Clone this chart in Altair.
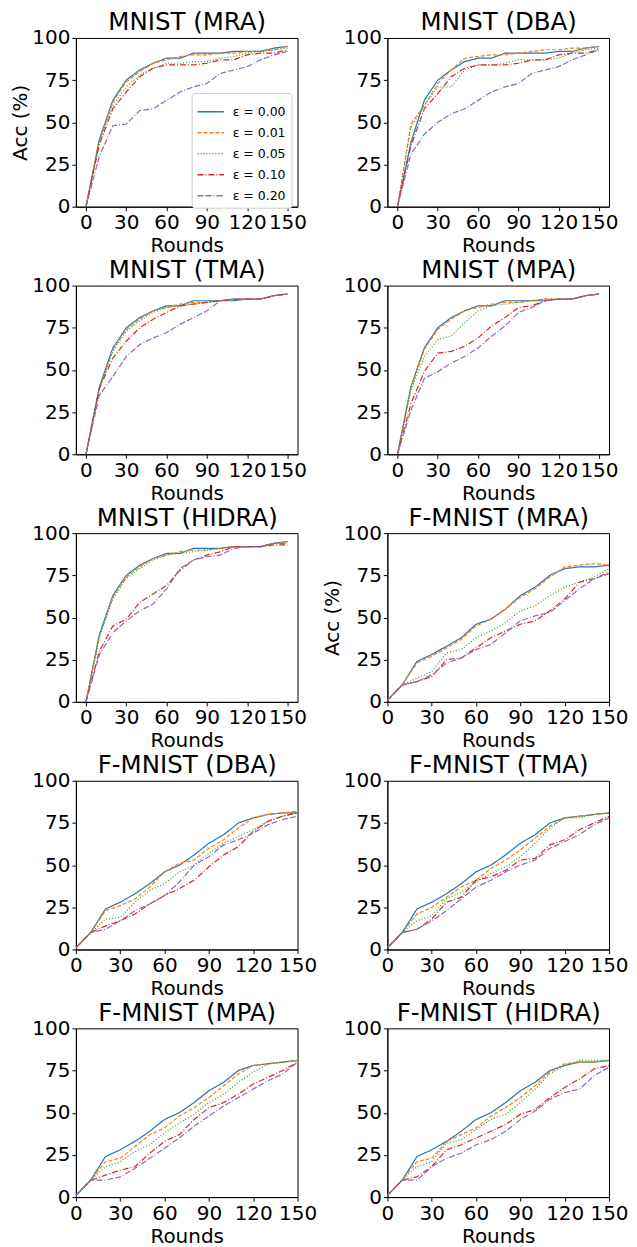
import altair as alt
import pandas as pd

rounds = list(range(0, 151, 10))
eps_labels = ["ε = 0.00", "ε = 0.01", "ε = 0.05", "ε = 0.10", "ε = 0.20"]
colors = ["#1f77b4", "#ff7f0e", "#2ca02c", "#d62728", "#9467bd"]
dashes = [[1, 0], [4, 2], [1, 2], [6, 2, 1, 2], [6, 2, 6, 2, 1, 2]]
x_ticks = [0, 30, 60, 90, 120, 150]
y_ticks = [0, 25, 50, 75, 100]

mnist_mra = [
    [0, 40, 63, 75, 81, 85, 88, 88, 91, 91, 91, 92, 92, 92, 94, 95],
    [0, 39, 62, 74, 80, 85, 87, 89, 90, 90, 91, 91, 92, 92, 93, 95],
    [0, 38, 60, 71, 78, 82, 85, 85, 86, 86, 88, 89, 91, 92, 93, 94],
    [0, 37, 58, 68, 77, 82, 84, 84, 84, 85, 87, 87, 90, 91, 91, 93],
    [0, 30, 48, 49, 57, 58, 63, 68, 71, 73, 79, 81, 83, 87, 90, 92],
]
mnist_dba = [
    [0, 38, 63, 75, 81, 86, 88, 88, 91, 91, 91, 91, 92, 92, 94, 95],
    [0, 49, 60, 73, 81, 88, 89, 90, 90, 91, 92, 93, 93, 94, 94, 95],
    [0, 47, 60, 71, 71, 81, 84, 84, 85, 87, 87, 87, 88, 91, 93, 94],
    [0, 36, 58, 67, 77, 82, 84, 84, 84, 85, 87, 87, 90, 91, 91, 93],
    [0, 31, 43, 50, 55, 58, 63, 68, 71, 73, 79, 81, 83, 87, 90, 93],
]
mnist_tma = [
    [0, 40, 63, 75, 81, 85, 88, 88, 91, 91, 91, 91, 92, 92, 94, 95],
    [0, 39, 62, 74, 80, 85, 87, 89, 90, 90, 91, 92, 92, 92, 94, 95],
    [0, 39, 61, 73, 79, 84, 87, 88, 89, 90, 91, 92, 92, 92, 94, 95],
    [0, 39, 57, 67, 75, 80, 84, 88, 89, 90, 91, 92, 92, 92, 94, 95],
    [0, 35, 46, 58, 65, 69, 72, 77, 81, 85, 91, 92, 92, 92, 94, 95],
]
mnist_mpa = [
    [0, 40, 63, 75, 81, 85, 88, 88, 91, 91, 91, 91, 92, 92, 94, 95],
    [0, 39, 62, 74, 80, 85, 87, 89, 90, 90, 91, 92, 92, 92, 94, 95],
    [0, 38, 58, 68, 70, 78, 85, 88, 89, 90, 91, 92, 92, 92, 94, 95],
    [0, 30, 49, 60, 61, 64, 69, 76, 81, 87, 88, 91, 92, 92, 94, 95],
    [0, 26, 45, 49, 54, 58, 63, 70, 76, 84, 87, 91, 92, 92, 94, 95],
]
mnist_hidra = [
    [0, 40, 63, 75, 81, 85, 88, 88, 91, 91, 91, 92, 92, 92, 94, 95],
    [0, 39, 62, 74, 80, 85, 87, 89, 90, 90, 91, 92, 92, 92, 94, 95],
    [0, 38, 61, 73, 79, 84, 87, 88, 89, 90, 91, 92, 92, 92, 94, 94],
    [0, 30, 45, 49, 59, 64, 69, 78, 84, 87, 89, 92, 92, 92, 93, 93],
    [0, 28, 41, 48, 54, 58, 67, 79, 84, 86, 87, 91, 92, 92, 94, 94],
]
fmnist_mra = [
    [1, 10, 24, 28, 33, 38, 46, 49, 55, 63, 68, 75, 79, 80, 80, 81],
    [1, 10, 23, 27, 32, 37, 45, 49, 55, 62, 67, 74, 80, 81, 82, 81],
    [1, 10, 14, 18, 29, 31, 38, 42, 47, 54, 57, 63, 68, 71, 74, 79],
    [1, 10, 12, 15, 25, 26, 32, 38, 42, 46, 48, 54, 61, 71, 73, 77],
    [1, 10, 12, 16, 23, 26, 31, 34, 41, 48, 51, 53, 60, 67, 73, 76],
]
fmnist_dba = [
    [1, 10, 24, 28, 33, 39, 46, 50, 56, 63, 68, 75, 78, 80, 81, 81],
    [1, 10, 23, 26, 30, 37, 46, 51, 53, 60, 65, 72, 78, 80, 81, 82],
    [1, 10, 18, 19, 28, 35, 39, 46, 50, 57, 63, 67, 71, 76, 79, 81],
    [1, 10, 14, 17, 21, 27, 32, 36, 41, 49, 56, 61, 70, 76, 79, 81],
    [1, 10, 12, 17, 23, 27, 32, 40, 50, 55, 62, 65, 69, 74, 77, 79],
]
fmnist_tma = [
    [1, 10, 24, 28, 33, 39, 46, 50, 56, 63, 68, 75, 78, 79, 80, 81],
    [1, 10, 21, 25, 31, 37, 41, 48, 53, 59, 66, 73, 78, 79, 80, 81],
    [1, 10, 17, 20, 30, 34, 40, 45, 49, 55, 63, 72, 78, 78, 80, 81],
    [1, 10, 12, 18, 28, 31, 41, 43, 47, 53, 54, 62, 65, 71, 75, 79],
    [1, 10, 12, 17, 23, 30, 37, 41, 46, 50, 53, 60, 64, 68, 74, 78],
]
fmnist_mpa = [
    [1, 10, 24, 28, 33, 39, 46, 50, 56, 63, 68, 75, 78, 79, 80, 81],
    [1, 10, 21, 23, 30, 37, 41, 48, 53, 59, 66, 73, 78, 79, 80, 81],
    [1, 10, 18, 21, 27, 31, 38, 44, 49, 56, 61, 68, 74, 79, 80, 81],
    [1, 10, 13, 16, 18, 26, 33, 37, 46, 53, 56, 61, 67, 71, 75, 80],
    [1, 10, 10, 12, 17, 23, 29, 35, 42, 48, 54, 59, 64, 69, 73, 80],
]
fmnist_hidra = [
    [1, 10, 24, 28, 33, 39, 46, 50, 56, 63, 68, 75, 78, 80, 80, 81],
    [1, 10, 21, 23, 33, 37, 41, 48, 53, 59, 66, 74, 79, 80, 80, 81],
    [1, 10, 18, 21, 32, 34, 40, 46, 49, 56, 64, 73, 78, 81, 81, 81],
    [1, 10, 12, 18, 28, 31, 35, 39, 43, 49, 52, 59, 65, 70, 76, 78],
    [1, 10, 10, 18, 23, 26, 31, 34, 39, 46, 51, 58, 62, 64, 72, 77],
]

panels = [
    ("MNIST (MRA)", mnist_mra, True, True, True),
    ("MNIST (DBA)", mnist_dba, True, False, False),
    ("MNIST (TMA)", mnist_tma, True, False, False),
    ("MNIST (MPA)", mnist_mpa, True, False, False),
    ("MNIST (HIDRA)", mnist_hidra, True, False, False),
    ("F-MNIST (MRA)", fmnist_mra, False, True, False),
    ("F-MNIST (DBA)", fmnist_dba, False, False, False),
    ("F-MNIST (TMA)", fmnist_tma, False, False, False),
    ("F-MNIST (MPA)", fmnist_mpa, False, False, False),
    ("F-MNIST (HIDRA)", fmnist_hidra, False, False, False),
]

FONT = "DejaVu Sans"
W, H = 222, 169


def make_panel(title, series, mnist, show_ytitle, show_legend):
    rows = []
    for lab, vals in zip(eps_labels, series):
        for r, v in zip(rounds, vals):
            rows.append({"Rounds": r, "acc": v, "eps": lab})
    df = pd.DataFrame(rows)
    xdom = [-7.5, 157.5] if mnist else [0, 150]
    xscale = alt.Scale(domain=xdom, nice=False, zero=False)
    yscale = alt.Scale(domain=[0, 100], nice=False)
    yaxis = alt.Axis(values=y_ticks, title="Acc (%)", labelOverlap=False,
                     titleOpacity=1 if show_ytitle else 0)
    if show_legend:
        leg = alt.Legend(
            title=None, orient="none", legendX=W - 106, legendY=H - 114,
            labelFontSize=12.5, labelFont=FONT, labelColor="black",
            symbolSize=700, symbolStrokeWidth=1.5, symbolType="stroke",
            strokeColor="#cccccc", fillColor="white", cornerRadius=3,
            padding=5, rowPadding=-1, labelOffset=8,
        )
    else:
        leg = None
    base = alt.Chart(df)
    lines = base.mark_line(strokeWidth=1.2, clip=True).encode(
        x=alt.X("Rounds:Q", scale=xscale,
                axis=alt.Axis(values=x_ticks, title="Rounds", labelFlush=False,
                              labelOverlap=False, titlePadding=3)),
        y=alt.Y("acc:Q", scale=yscale, axis=yaxis),
        color=alt.Color("eps:N", scale=alt.Scale(domain=eps_labels, range=colors), legend=leg),
        strokeDash=alt.StrokeDash("eps:N", scale=alt.Scale(domain=eps_labels, range=dashes), legend=leg),
    )
    # invisible layer carrying a top axis whose title acts as the panel title
    top = base.mark_line(strokeOpacity=0, clip=True).encode(
        x=alt.X("Rounds:Q", scale=xscale,
                axis=alt.Axis(orient="top", title=title, labels=False, ticks=False,
                              domain=False, titleFontSize=24.5, titlePadding=3)),
        y=alt.Y("acc:Q", scale=yscale, axis=yaxis),
        detail="eps:N",
    )
    return alt.layer(lines, top).resolve_axis(x="independent").properties(width=W, height=H)


charts = [make_panel(*p) for p in panels]

chart = alt.concat(*charts, columns=2, spacing={"row": 0, "column": 4}).resolve_scale(
    color="independent", strokeDash="independent"
).resolve_legend(color="independent", strokeDash="independent").configure_view(
    stroke="black", strokeWidth=1
).configure_axis(
    labelFontSize=20, titleFontSize=20, labelFont=FONT, titleFont=FONT,
    titleFontWeight="normal", labelColor="black", titleColor="black",
    domainColor="black", tickColor="black", tickSize=4, labelPadding=2,
    titlePadding=1, grid=False,
).properties(padding={"left": 2, "top": 0, "right": 0, "bottom": 0}, background="white")

chart.save("out.html", embed_options={"renderer": "svg", "actions": False})
